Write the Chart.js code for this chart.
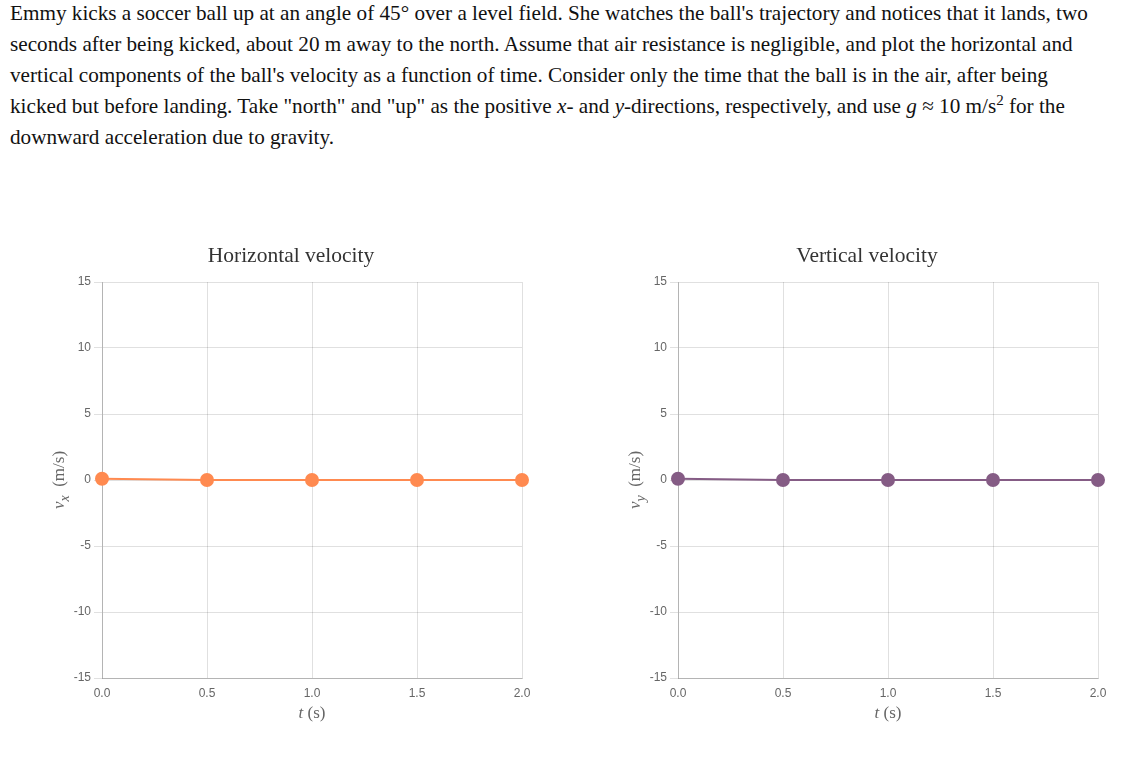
<!DOCTYPE html>
<html>
<head>
<meta charset="utf-8">
<script src="https://cdn.jsdelivr.net/npm/chart.js@4.4.1/dist/chart.umd.min.js"></script>
<style>
    html, body { margin: 0; padding: 0; background: #fff; overflow: hidden; }
    #prompt {
        position: absolute;
        left: 10px;
        top: -2px;
        width: 1092px;
        margin: 0;
        font-family: 'Liberation Serif', 'Times New Roman', serif;
        font-size: 21.2px;
        line-height: 31px;
        color: #111;
    }
    .chart-box { position: absolute; top: 230px; width: 542px; height: 500px; }
    #boxVx { left: 20px; }
    #boxVy { left: 596px; }
</style>
</head>
<body>
<p id="prompt">Emmy kicks a soccer ball up at an angle of 45° over a level field. She watches the ball's trajectory and notices that it lands, two seconds after being kicked, about 20 m away to the north. Assume that air resistance is negligible, and plot the horizontal and vertical components of the ball's velocity as a function of time. Consider only the time that the ball is in the air, after being kicked but before landing. Take "north" and "up" as the positive <i>x</i>- and <i>y</i>-directions, respectively, and use <i>g</i> ≈ 10 m/s<sup style="font-size:15px;line-height:0">2</sup> for the downward acceleration due to gravity.</p>

<div class="chart-box" id="boxVx"><canvas id="chartVx"></canvas></div>
<div class="chart-box" id="boxVy"><canvas id="chartVy"></canvas></div>

<script>
// time samples (s)
const times = [0, 0.5, 1, 1.5, 2];
// horizontal velocity (m/s)
const vxValues = [0.1, 0, 0, 0, 0];
// vertical velocity (m/s)
const vyValues = [0.1, 0, 0, 0, 0];
const xTicks = [0, 0.5, 1, 1.5, 2];
const yTicks = [-15, -10, -5, 0, 5, 10, 15];

const theme = {
    text: '#666',
    title: '#333',
    grid: 'rgba(0, 0, 0, 0.12)',
    border: 'rgba(0, 0, 0, 0.2)',
    orange: '#ff8a50',
    purple: '#855c85'
};

const serif = "'Liberation Serif', 'Times New Roman', serif";
const sans = "'Liberation Sans', Arial, sans-serif";

// axis titles need italics and a subscript, so they are drawn by hand
const axisTitles = {
    id: 'axisTitles',
    afterDraw(chart, args, opts) {
        const { ctx, chartArea } = chart;
        ctx.save();
        ctx.fillStyle = theme.text;
        ctx.textBaseline = 'alphabetic';
        ctx.textAlign = 'left';

        // x title: t (s)
        const italic = `italic 17px ${serif}`;
        const regular = `17px ${serif}`;
        ctx.font = italic;
        const wT = ctx.measureText('t').width;
        ctx.font = regular;
        const wS = ctx.measureText(' (s)').width;
        let x = (chartArea.left + chartArea.right) / 2 - (wT + wS) / 2;
        const yBase = chartArea.bottom + 40;
        ctx.font = italic;
        ctx.fillText('t', x, yBase);
        ctx.font = regular;
        ctx.fillText(' (s)', x + wT, yBase);

        // y title: v_sub (m/s), rotated
        const sub = `italic 14px ${serif}`;
        ctx.font = italic;
        const wV = ctx.measureText('v').width;
        ctx.font = sub;
        const wSub = ctx.measureText(opts.sub).width;
        ctx.font = regular;
        const wUnit = ctx.measureText('  (m/s)').width;
        const total = wV + wSub + wUnit;

        ctx.translate(chartArea.left - 38, (chartArea.top + chartArea.bottom) / 2);
        ctx.rotate(-Math.PI / 2);
        let p = -total / 2;
        ctx.font = italic;
        ctx.fillText('v', p, 0);
        p += wV;
        ctx.font = sub;
        ctx.fillText(opts.sub, p, 5);
        p += wSub;
        ctx.font = regular;
        ctx.fillText('  (m/s)', p, 0);
        ctx.restore();
    }
};

function buildChart(canvasId, title, values, color, sub) {
    const ctx = document.getElementById(canvasId).getContext('2d');
    return new Chart(ctx, {
        type: 'line',
        data: {
            datasets: [{
                data: times.map((t, i) => ({ x: t, y: values[i] })),
                borderColor: color,
                backgroundColor: color,
                pointBackgroundColor: color,
                pointBorderColor: color,
                borderWidth: 2,
                pointRadius: 6,
                pointHoverRadius: 6,
                tension: 0,
                fill: false,
                clip: false
            }]
        },
        options: {
            responsive: true,
            maintainAspectRatio: false,
            animation: false,
            layout: { padding: { left: 40, right: 40, top: 0, bottom: 0 } },
            plugins: {
                legend: { display: false },
                tooltip: { enabled: false },
                title: {
                    display: true,
                    text: title,
                    color: theme.title,
                    font: { family: serif, size: 21.5, weight: 'normal' },
                    padding: { top: 13, bottom: 13.2 }
                },
                axisTitles: { sub }
            },
            scales: {
                x: {
                    type: 'linear',
                    min: xTicks[0],
                    max: xTicks[xTicks.length - 1],
                    afterBuildTicks: (scale) => { scale.ticks = xTicks.map((v) => ({ value: v })); },
                    afterFit: (scale) => { scale.height = 52; },
                    grid: { color: theme.grid, drawTicks: false },
                    border: { color: theme.border },
                    ticks: {
                        color: theme.text,
                        font: { family: sans, size: 12 },
                        padding: 8,
                        maxRotation: 0,
                        callback: (v) => Number(v).toFixed(1)
                    }
                },
                y: {
                    min: yTicks[0],
                    max: yTicks[yTicks.length - 1],
                    afterBuildTicks: (scale) => { scale.ticks = yTicks.map((v) => ({ value: v })); },
                    afterFit: (scale) => { scale.width = 42; },
                    grid: { color: theme.grid, tickLength: 8 },
                    border: { color: theme.border },
                    ticks: {
                        color: theme.text,
                        font: { family: sans, size: 12 },
                        padding: 3
                    }
                }
            }
        },
        plugins: [axisTitles]
    });
}

buildChart('chartVx', 'Horizontal velocity', vxValues, theme.orange, 'x');
buildChart('chartVy', 'Vertical velocity', vyValues, theme.purple, 'y');
</script>
</body>
</html>
